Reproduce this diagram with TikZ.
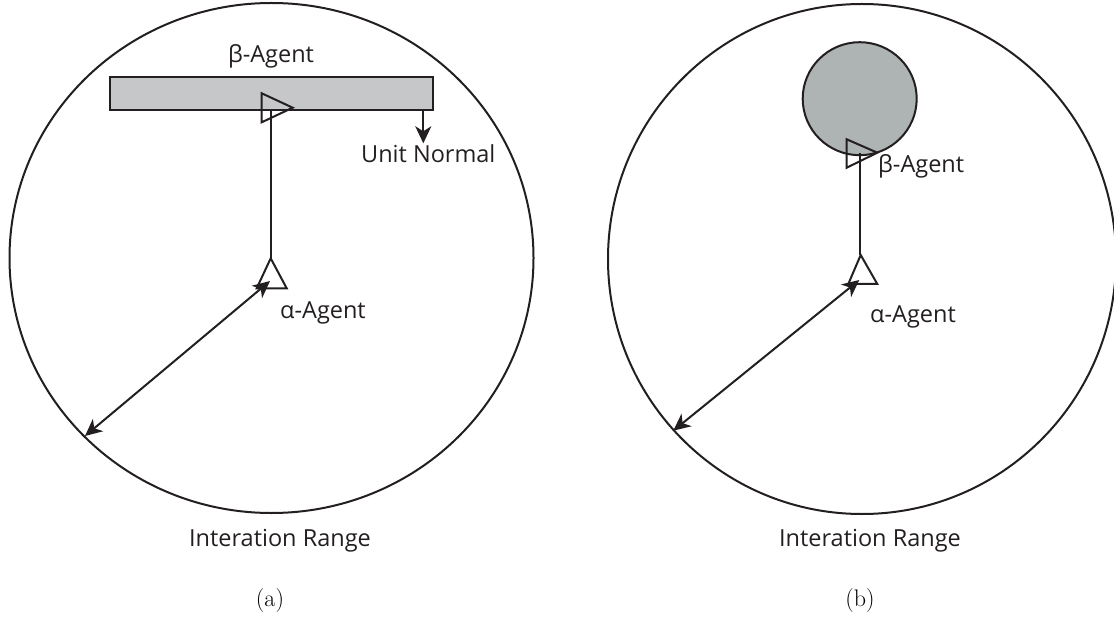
\documentclass[tikz,border=0pt]{standalone}
\usepackage{fontspec}
\setmainfont{Latin Modern Roman}
\newfontfamily\labfont{Open Sans}
\usetikzlibrary{arrows.meta,shapes.geometric}
\definecolor{rectgray}{HTML}{C6C7C9}
\definecolor{circgray}{HTML}{AEB3B4}
\definecolor{linecol}{HTML}{231F20}
\tikzset{
  outline/.style={draw=linecol, line width=2pt},
  lab/.style={font=\labfont\fontsize{23.5}{28}\selectfont, text=linecol, inner sep=0pt},
  subcap/.style={font=\fontsize{24}{28}\selectfont, inner sep=0pt},
  tip/.tip={Stealth[length=17pt,width=16pt,inset=5pt]},
  arr/.style={draw=linecol, line width=2pt, -tip},
  darr/.style={draw=linecol, line width=2pt, tip-tip},
  agent/.style={draw=linecol, line width=2pt, line join=miter}
}
\begin{document}
\begin{tikzpicture}[x=1pt,y=-1pt]
\useasboundingbox (0,0) rectangle (1114,620);
% ---------------- panel (a)
\node[outline, ellipse, minimum width=524pt, minimum height=510pt, inner sep=0pt] (rangeA) at (271.5,258) {};
\node[outline, fill=rectgray, minimum width=323pt, minimum height=33.5pt, inner sep=0pt, anchor=north west] (wall) at (109.3,75.7) {};
\node[lab, anchor=base] (betaA) at (271,63) {β-Agent};
\coordinate (betaAt1) at (261.7,93.3);
\coordinate (betaAt2) at (261.7,122.3);
\coordinate (betaAt3) at (292.7,107.7);
\draw[agent] (betaAt1) -- (betaAt3) -- (betaAt2) -- cycle;
\coordinate (alphaA) at (270.7,258.3);
\coordinate (alphaAl) at (256.7,288.3);
\coordinate (alphaAr) at (286.7,288.3);
\draw[agent] (alphaA) -- (alphaAr) -- (alphaAl) -- cycle;
\draw[outline] (wall.south -| alphaA) -- (alphaA);
\coordinate (normA) at (423.3,143.3);
\draw[arr] (wall.south -| normA) -- (normA);
\node[lab, anchor=base west] (unitA) at (361,163) {Unit Normal};
\node[lab, anchor=base west] (alabA) at (280,319) {α-Agent};
\coordinate (rimA) at (85,436);
\coordinate (centA) at (270,281);
\draw[darr] (rimA) -- (centA);
\node[lab, anchor=base] (irA) at (280,546.7) {Interation Range};
\node[subcap, anchor=base] (capA) at (270,606) {(a)};
% ---------------- panel (b)
\node[outline, ellipse, minimum width=508pt, minimum height=510pt, inner sep=0pt] (rangeB) at (862,259) {};
\node[outline, fill=circgray, ellipse, minimum width=114pt, minimum height=113pt, inner sep=0pt] (obst) at (859.7,98.7) {};
\coordinate (betaBt1) at (846.7,139.3);
\coordinate (betaBt2) at (846.7,167.7);
\coordinate (betaBt3) at (877.3,152.7);
\draw[agent] (betaBt1) -- (betaBt3) -- (betaBt2) -- cycle;
\node[lab, anchor=base west] (betaB) at (878,173) {β-Agent};
\coordinate (alphaB) at (860.7,255);
\coordinate (alphaBl) at (848.3,284);
\coordinate (alphaBr) at (877.3,284);
\draw[agent] (alphaB) -- (alphaBr) -- (alphaBl) -- cycle;
\coordinate (betaBc) at (860,153);
\draw[outline] (betaBc) -- (betaBc |- alphaB);
\node[lab, anchor=base west] (alabB) at (870,323) {α-Agent};
\coordinate (rimB) at (673.3,430.7);
\coordinate (centB) at (859.3,280);
\draw[darr] (rimB) -- (centB);
\node[lab, anchor=base] (irB) at (870,546.7) {Interation Range};
\node[subcap, anchor=base] (capB) at (860,606) {(b)};
\end{tikzpicture}
\end{document}
